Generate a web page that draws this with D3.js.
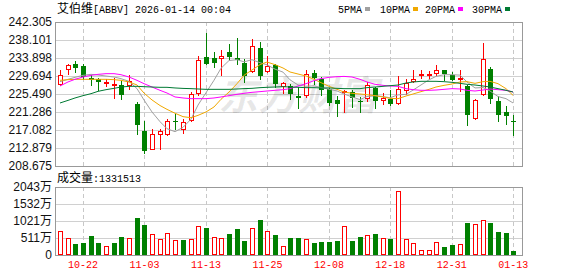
<!DOCTYPE html>
<html>
<head>
<meta charset="utf-8">
<script src="https://cdn.jsdelivr.net/npm/d3@7"></script>
<style>
body { margin: 0; background: #fff; }
svg { display: block; }
</style>
</head>
<body>
<div id="chart"></div>
<script>
// trading days shown (MM-DD)
var dates = ["10-17","10-20","10-21","10-22","10-23","10-24","10-27","10-28","10-29","10-30","10-31",
  "11-03","11-04","11-05","11-06","11-07","11-10","11-11","11-12","11-13","11-14","11-17","11-18","11-19","11-20","11-21","11-24","11-25","11-26","11-28",
  "12-01","12-02","12-03","12-04","12-05","12-08","12-09","12-10","12-11","12-12","12-15","12-16","12-17","12-18","12-19","12-22","12-23","12-24","12-26","12-29","12-30","12-31",
  "01-02","01-05","01-06","01-07","01-08","01-09","01-12","01-13"];

var opens = [227.9,231.41,232.5,232.03,229.3,228.92,228.06,227.51,227.67,227.51,
  223.16,216.85,212.57,216.07,216.23,219.3,217.24,219.34,225.72,234.21,
  233.9,233.9,235.3,233.9,232.65,230.86,236.23,230.78,232.18,227.28,
  227.36,225.02,225.18,230.4,229.07,226.74,224.17,225.96,225.96,223.93,
  224.56,226.9,224.17,224.4,223.39,226.5,228.53,229.85,229.9,230.47,
  231.02,230.0,228.92,227.28,219.88,225.57,231.4,223.86,221.29,219.19];
var highs = [231.02,232.42,233.12,232.42,229.85,229.23,229.07,229.23,228.45,230.01,
  223.62,219.19,217.24,217.39,219.73,220.9,219.73,225.96,234.37,239.74,
  235.3,235.69,237.24,238.57,233.74,238.41,237.63,234.37,232.57,228.29,
  227.9,227.12,231.02,231.02,229.46,226.9,225.02,226.35,226.35,224.79,
  228.29,227.12,225.8,226.35,229.69,229.07,231.17,231.17,230.86,232.34,
  231.17,230.63,231.02,227.51,224.24,237.4,231.8,225.02,222.69,220.5];
var lows = [227.51,230.24,230.63,229.07,227.67,226.35,227.36,224.56,224.4,226.74,
  216.23,211.79,212.57,212.72,216.0,217.39,216.46,219.26,225.33,232.4,
  231.8,229.85,233.74,232.57,228.29,230.63,229.07,230.63,227.12,225.8,
  224.25,222.22,224.79,227.9,225.33,222.84,220.35,221.29,222.46,221.29,
  223.78,222.22,223.23,223.0,223.23,225.57,228.29,229.23,229.23,229.85,
  228.84,228.68,226.12,218.17,219.57,225.18,223.47,219.18,218.48,215.84];
var closes = [229.85,232.18,231.64,229.46,228.68,228.29,228.35,227.9,225.34,228.45,
  218.33,212.26,216.07,216.77,219.11,219.2,218.95,225.57,233.35,232.57,
  232.81,234.37,234.21,233.51,229.69,236.7,229.69,232.03,227.9,228.06,
  225.41,224.63,230.24,229.3,226.5,223.47,223.23,226.19,224.56,223.7,
  227.67,223.86,224.56,223.08,226.74,228.06,228.99,230.1,230.2,231.02,
  230.08,228.84,229.3,220.5,224.01,233.59,224.4,220.5,220.35,218.87];

// volume in 万 shares
var volumes = [721,511,330,360,580,360,270,360,540,511,
  1111,901,621,481,651,441,450,481,861,811,
  540,511,631,781,420,801,1051,721,601,270,
  511,511,481,360,390,390,420,861,420,541,
  591,631,511,481,1923,481,360,140,140,390,
  240,300,330,961,921,1041,961,691,661,133];

var ma5 = [228.37,228.92,229.38,229.85,230.08,229.93,229.69,229.46,229.07,228.45,
  226.74,224.09,221.29,219.03,217.39,216.69,217.7,219.6,222.9,225.8,
  228.7,231.5,233.3,233.5,233.0,233.5,232.8,232.3,231.3,230.6,
  228.8,227.6,227.3,227.4,227.0,226.6,226.2,225.5,224.8,224.2,
  224.9,225.1,224.9,224.6,225.3,225.4,226.4,227.6,228.8,229.6,
  230.0,230.0,229.9,228.3,226.9,227.0,226.2,224.9,224.4,223.4];
var ma10 = [228.68,228.84,228.92,228.92,228.92,228.92,228.92,228.84,228.68,228.29,
  227.6,225.7,224.1,222.8,221.9,221.0,220.2,219.95,220.5,221.3,
  222.46,224.25,225.96,227.9,229.85,231.1,232.34,232.96,232.34,231.56,
  230.63,230.16,229.69,228.92,228.14,227.28,226.58,225.96,225.65,225.49,
  225.33,225.1,224.79,224.48,224.4,225.02,225.49,226.04,226.58,227.12,
  227.51,227.82,228.29,228.37,227.98,228.37,228.45,227.9,226.74,225.18];
var ma20 = [227.36,228.3,228.92,229.46,229.85,230.08,230.24,230.24,230.0,229.46,
  228.68,227.9,227.12,226.35,225.72,224.8,224.56,224.4,224.4,224.4,
  224.56,224.8,225.1,225.41,225.65,225.88,226.04,226.19,226.35,226.5,
  226.74,227.36,227.9,228.6,229.07,229.38,229.53,229.6,229.46,228.92,
  228.3,227.75,227.51,227.36,227.28,226.74,226.5,226.35,226.35,226.42,
  226.58,226.74,226.66,226.35,226.19,226.42,226.66,226.5,226.35,225.96];
var ma30 = [223.39,224.0,224.56,225.1,225.57,226.11,226.5,226.81,227.12,227.28,
  227.28,227.2,227.12,227.05,227.05,226.9,226.8,226.74,226.66,226.58,
  226.58,226.58,226.58,226.66,226.74,226.81,226.97,227.05,227.12,227.2,
  227.12,227.05,226.97,226.97,226.9,226.9,226.81,226.74,226.74,226.74,
  226.97,227.12,227.28,227.43,227.59,228.06,228.29,228.45,228.45,228.45,
  228.37,228.21,227.98,227.75,227.59,227.36,227.12,226.74,226.35,225.96];

var priceTicks = [242.305,238.101,233.898,229.694,225.490,221.286,217.082,212.879,208.675];
var volTicks = [0,511,1021,1532,2043];
var dateTicks = ["10-22","11-03","11-13","11-25","12-08","12-18","12-31","01-13"];

var maNames = ["5PMA","10PMA","20PMA","30PMA"];
var maColors = ["#a0a0a0","#f0a800","#ff00ff","#007a33"];

var W = 578, H = 276;
// note: "top" is taken by window.top, so use plotTop
var plotLeft = 55, plotRight = 522, plotTop = 22, plotBottom = 166, vTop = 187, vBottom = 255;
var RED = "#ff0000", GREEN = "#008000";
var mono = "'Liberation Mono', monospace";
var cjk = "'Noto Sans CJK SC', sans-serif";

var svg = d3.select("#chart").append("svg")
  .attr("width", W)
  .attr("height", H);

var x = d3.scaleBand().domain(dates).range([56, 517.2]);
function cx(d) { return Math.round(x(d) + x.bandwidth() / 2); }

var y = d3.scaleLinear().domain([208.675, 242.305]).range([plotBottom, plotTop]);
var yv = d3.scaleLinear().domain([0, 2043]).range([vBottom, vTop]);

// horizontal grid
function grid(scale, ticks) {
  var g = svg.append("g")
    .attr("transform", "translate(" + plotLeft + ",0)")
    .call(d3.axisLeft(scale).tickValues(ticks).tickSize(-(plotRight - plotLeft)).tickFormat(""));
  g.select(".domain").remove();
  g.selectAll("line").attr("stroke", "#d0d0d0");
}
grid(y, priceTicks);
grid(yv, volTicks);

// vertical dashed grid
dateTicks.forEach(function (d) {
  [[plotTop, plotBottom], [vTop, vBottom]].forEach(function (r) {
    svg.append("line")
      .attr("x1", cx(d) + 0.5).attr("x2", cx(d) + 0.5)
      .attr("y1", r[0]).attr("y2", r[1])
      .attr("stroke", "#c8c8c8")
      .attr("stroke-dasharray", "4,3");
  });
});

// watermark
svg.append("text")
  .attr("x", 218).attr("y", 110)
  .attr("font-family", cjk)
  .attr("font-size", 40)
  .attr("font-weight", "bold")
  .attr("font-style", "italic")
  .attr("fill", "#000")
  .attr("fill-opacity", 0.09)
  .text("东方财富");

// frames
svg.append("rect").attr("x", plotLeft + 0.5).attr("y", plotTop + 0.5)
  .attr("width", plotRight - plotLeft).attr("height", plotBottom - plotTop)
  .attr("fill", "none").attr("stroke", "#999");
svg.append("rect").attr("x", plotLeft + 0.5).attr("y", vTop + 0.5)
  .attr("width", plotRight - plotLeft).attr("height", vBottom - vTop)
  .attr("fill", "none").attr("stroke", "#999");

// price labels
var ya = svg.append("g")
  .attr("transform", "translate(" + plotLeft + ",0)")
  .call(d3.axisLeft(y).tickValues(priceTicks).tickSize(0).tickPadding(3).tickFormat(d3.format(".3f")));
ya.select(".domain").remove();
ya.selectAll("text").attr("font-family", "'Liberation Sans', Arial, sans-serif").attr("font-size", 12).attr("fill", "#111");

// volume labels
var va = svg.append("g")
  .attr("transform", "translate(" + plotLeft + ",0)")
  .call(d3.axisLeft(yv).tickValues(volTicks).tickSize(0).tickPadding(3)
    .tickFormat(function (d) { return d === 0 ? "0" : d + "万"; }));
va.select(".domain").remove();
va.selectAll("text").attr("font-family", "'Liberation Sans', 'Noto Sans CJK SC', sans-serif").attr("font-size", 12).attr("fill", "#111");

// date labels
var xa = svg.append("g")
  .attr("transform", "translate(0," + vBottom + ")")
  .call(d3.axisBottom(x).tickValues(dateTicks).tickSize(0).tickPadding(6));
xa.select(".domain").remove();
xa.selectAll("text").attr("font-family", mono).attr("font-size", 10).attr("fill", RED);

// candles
var candles = svg.append("g").attr("shape-rendering", "crispEdges");
dates.forEach(function (d, i) {
  var c = cx(d);
  var up = closes[i] >= opens[i];
  var col = up ? RED : GREEN;
  candles.append("line")
    .attr("x1", c + 0.5).attr("x2", c + 0.5)
    .attr("y1", Math.round(y(highs[i]))).attr("y2", Math.round(y(lows[i])) + 1)
    .attr("stroke", col);
  var yt = Math.round(y(Math.max(opens[i], closes[i])));
  var yb = Math.round(y(Math.min(opens[i], closes[i])));
  if (up) {
    candles.append("rect")
      .attr("x", c - 1.5).attr("y", yt + 0.5)
      .attr("width", 4).attr("height", Math.max(yb - yt, 1))
      .attr("fill", "#fff").attr("stroke", col);
  } else {
    candles.append("rect")
      .attr("x", c - 2).attr("y", yt)
      .attr("width", 5).attr("height", Math.max(yb - yt, 1))
      .attr("fill", col);
  }
});

// moving averages
[ma5, ma10, ma20, ma30].forEach(function (arr, k) {
  var line = d3.line()
    .x(function (v, i) { return cx(dates[i]); })
    .y(function (v) { return y(v); });
  svg.append("path")
    .datum(arr)
    .attr("d", line)
    .attr("fill", "none")
    .attr("stroke", maColors[k])
    .attr("stroke-width", 1);
});

// volume bars, coloured by close vs previous close
var vols = svg.append("g").attr("shape-rendering", "crispEdges");
dates.forEach(function (d, i) {
  var c = cx(d);
  var prev = i > 0 ? closes[i - 1] : opens[i];
  var up = closes[i] >= prev;
  var yt = Math.round(yv(volumes[i]));
  if (up) {
    vols.append("rect")
      .attr("x", c - 1.5).attr("y", yt + 0.5)
      .attr("width", 4).attr("height", vBottom - yt - 1)
      .attr("fill", "#fff").attr("stroke", RED);
  } else {
    vols.append("rect")
      .attr("x", c - 2).attr("y", yt)
      .attr("width", 5).attr("height", vBottom - yt)
      .attr("fill", GREEN);
  }
});

// title
var title = svg.append("text").attr("x", 57).attr("y", 13).attr("fill", "#000");
title.append("tspan").attr("font-family", cjk).attr("font-size", 12).text("艾伯维");
title.append("tspan").attr("font-family", mono).attr("font-size", 10).text("[ABBV] 2026-01-14 00:04");

// legend
var legX = [338, 380, 425, 472];
maNames.forEach(function (n, k) {
  svg.append("text")
    .attr("x", legX[k]).attr("y", 13)
    .attr("font-family", mono).attr("font-size", 10).attr("fill", "#000")
    .text(n);
  svg.append("rect")
    .attr("x", legX[k] + n.length * 6 + 3).attr("y", 7)
    .attr("width", 5).attr("height", 4)
    .attr("fill", maColors[k]);
});

// volume caption
var vt = svg.append("text").attr("x", 57).attr("y", 182).attr("fill", "#000");
vt.append("tspan").attr("font-family", cjk).attr("font-size", 12).text("成交量");
vt.append("tspan").attr("font-family", mono).attr("font-size", 10).text(":1331513");
</script>
</body>
</html>
